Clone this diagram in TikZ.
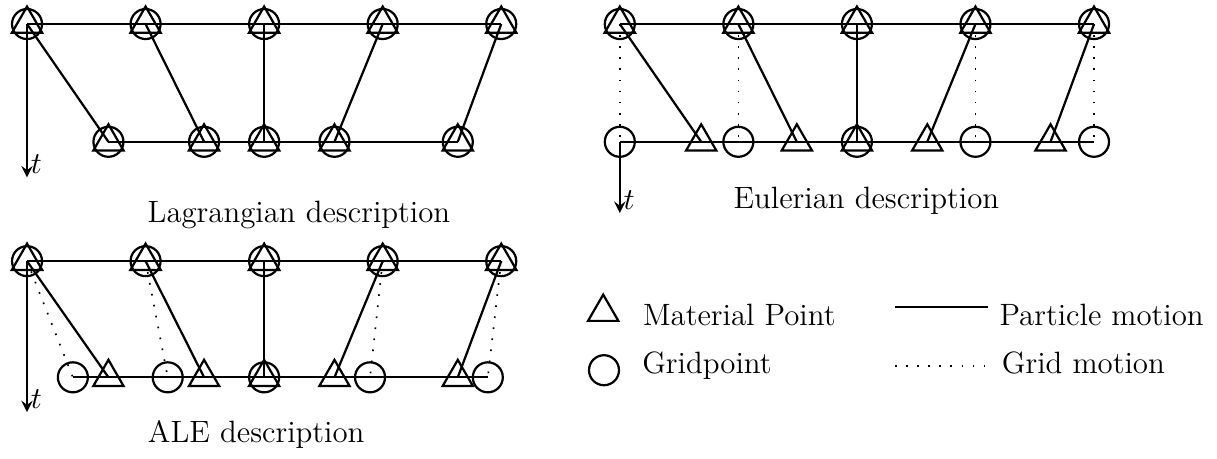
\documentclass[tikz,border=0pt]{standalone}
\usetikzlibrary{arrows.meta,shapes.geometric}

\begin{document}
\begin{tikzpicture}[>=stealth, thick, font=\fontsize{11.1}{13.3}\selectfont,
  gridpt/.style={draw, circle, minimum size=10.8pt, inner sep=0pt},
  matpt/.style={draw, regular polygon, regular polygon sides=3, minimum size=12.6pt, inner sep=0pt},
  gridmove/.style={line width=0.6pt, dash pattern=on 0.6pt off 3.4pt}]
  \useasboundingbox (-0.342,0.304) rectangle (15.056,-5.491);

  % Lagrangian description
  \node (lt1)  [gridpt] at (0,0) {};
  \node (lt1m) [matpt]  at (0,0) {};
  \node (lt2)  [gridpt] at (1.5,0) {};
  \node (lt2m) [matpt]  at (1.5,0) {};
  \node (lt3)  [gridpt] at (3,0) {};
  \node (lt3m) [matpt]  at (3,0) {};
  \node (lt4)  [gridpt] at (4.5,0) {};
  \node (lt4m) [matpt]  at (4.5,0) {};
  \node (lt5)  [gridpt] at (6,0) {};
  \node (lt5m) [matpt]  at (6,0) {};
  \node (lb1)  [gridpt] at (1.03,-1.49) {};
  \node (lb1m) [matpt]  at (1.03,-1.49) {};
  \node (lb2)  [gridpt] at (2.24,-1.49) {};
  \node (lb2m) [matpt]  at (2.24,-1.49) {};
  \node (lb3)  [gridpt] at (3,-1.49) {};
  \node (lb3m) [matpt]  at (3,-1.49) {};
  \node (lb4)  [gridpt] at (3.89,-1.49) {};
  \node (lb4m) [matpt]  at (3.89,-1.49) {};
  \node (lb5)  [gridpt] at (5.45,-1.49) {};
  \node (lb5m) [matpt]  at (5.45,-1.49) {};
  \draw (lt1.center) -- (lt5.center);
  \draw (lb1.center) -- (lb5.center);
  \draw (lt1.center) -- (lb1.center);
  \draw (lt2.center) -- (lb2.center);
  \draw (lt3.center) -- (lb3.center);
  \draw (lt4.center) -- (lb4.center);
  \draw (lt5.center) -- (lb5.center);
  \coordinate (lend) at (0,-1.94);
  \draw[->] (lt1.center) -- (lend) node[anchor=south west, inner sep=1pt] {$t$};
  \node (llab) [anchor=base] at (3.44,-2.51) {Lagrangian description};

  % Eulerian description
  \node (et1)  [gridpt] at (7.5,0) {};
  \node (et1m) [matpt]  at (7.5,0) {};
  \node (et2)  [gridpt] at (9,0) {};
  \node (et2m) [matpt]  at (9,0) {};
  \node (et3)  [gridpt] at (10.5,0) {};
  \node (et3m) [matpt]  at (10.5,0) {};
  \node (et4)  [gridpt] at (12,0) {};
  \node (et4m) [matpt]  at (12,0) {};
  \node (et5)  [gridpt] at (13.5,0) {};
  \node (et5m) [matpt]  at (13.5,0) {};
  \node (eg1)  [gridpt] at (7.5,-1.49) {};
  \node (eg2)  [gridpt] at (9,-1.49) {};
  \node (eg3)  [gridpt] at (10.5,-1.49) {};
  \node (eg4)  [gridpt] at (12,-1.49) {};
  \node (eg5)  [gridpt] at (13.5,-1.49) {};
  \node (em1)  [matpt]  at (8.53,-1.49) {};
  \node (em2)  [matpt]  at (9.74,-1.49) {};
  \node (em3)  [matpt]  at (10.5,-1.49) {};
  \node (em4)  [matpt]  at (11.39,-1.49) {};
  \node (em5)  [matpt]  at (12.95,-1.49) {};
  \draw (et1.center) -- (et5.center);
  \draw (eg1.center) -- (eg5.center);
  \draw (et1.center) -- (em1.center);
  \draw (et2.center) -- (em2.center);
  \draw (et3.center) -- (em3.center);
  \draw (et4.center) -- (em4.center);
  \draw (et5.center) -- (em5.center);
  \draw[gridmove] (et1.center) -- (eg1.center);
  \draw[gridmove] (et2.center) -- (eg2.center);
  \draw[gridmove] (et4.center) -- (eg4.center);
  \draw[gridmove] (et5.center) -- (eg5.center);
  \coordinate (eend) at (7.5,-2.39);
  \draw[->] (eg1.center) -- (eend) node[anchor=south west, inner sep=1pt] {$t$};
  \node (elab) [anchor=base] at (10.62,-2.34) {Eulerian description};

  % ALE description
  \node (at1)  [gridpt] at (0,-3) {};
  \node (at1m) [matpt]  at (0,-3) {};
  \node (at2)  [gridpt] at (1.5,-3) {};
  \node (at2m) [matpt]  at (1.5,-3) {};
  \node (at3)  [gridpt] at (3,-3) {};
  \node (at3m) [matpt]  at (3,-3) {};
  \node (at4)  [gridpt] at (4.5,-3) {};
  \node (at4m) [matpt]  at (4.5,-3) {};
  \node (at5)  [gridpt] at (6,-3) {};
  \node (at5m) [matpt]  at (6,-3) {};
  \node (ag1)  [gridpt] at (0.58,-4.47) {};
  \node (ag2)  [gridpt] at (1.78,-4.47) {};
  \node (ag3)  [gridpt] at (3,-4.47) {};
  \node (ag4)  [gridpt] at (4.34,-4.47) {};
  \node (ag5)  [gridpt] at (5.83,-4.47) {};
  \node (am1)  [matpt]  at (1.03,-4.47) {};
  \node (am2)  [matpt]  at (2.24,-4.47) {};
  \node (am3)  [matpt]  at (3,-4.47) {};
  \node (am4)  [matpt]  at (3.89,-4.47) {};
  \node (am5)  [matpt]  at (5.45,-4.47) {};
  \draw (at1.center) -- (at5.center);
  \draw (ag1.center) -- (ag5.center);
  \draw (at1.center) -- (am1.center);
  \draw (at2.center) -- (am2.center);
  \draw (at3.center) -- (am3.center);
  \draw (at4.center) -- (am4.center);
  \draw (at5.center) -- (am5.center);
  \draw[gridmove] (at1.center) -- (ag1.center);
  \draw[gridmove] (at2.center) -- (ag2.center);
  \draw[gridmove] (at4.center) -- (ag4.center);
  \draw[gridmove] (at5.center) -- (ag5.center);
  \coordinate (aend) at (0,-4.91);
  \draw[->] (at1.center) -- (aend) node[anchor=south west, inner sep=1pt] {$t$};
  \node (alab) [anchor=base] at (2.9,-5.30) {ALE description};

  % legend
  \node (kmat)  [matpt]  at (7.29,-3.645) {};
  \node (kgrid) [gridpt] at (7.30,-4.38) {};
  \node (kmatt)  [anchor=base west, inner sep=0pt] at (7.78,-3.82) {Material Point};
  \node (kgridt) [anchor=base west, inner sep=0pt] at (7.77,-4.42) {Gridpoint};
  \coordinate (kpa) at (10.98,-3.58);
  \coordinate (kpb) at (12.16,-3.58);
  \coordinate (kga) at (10.98,-4.33);
  \coordinate (kgb) at (12.17,-4.33);
  \draw (kpa) -- (kpb);
  \draw[gridmove] (kga) -- (kgb);
  \node (kpartt) [anchor=base west, inner sep=0pt] at (12.29,-3.82) {Particle motion};
  \node (kmovet) [anchor=base west, inner sep=0pt] at (12.32,-4.42) {Grid motion};
\end{tikzpicture}
\end{document}
